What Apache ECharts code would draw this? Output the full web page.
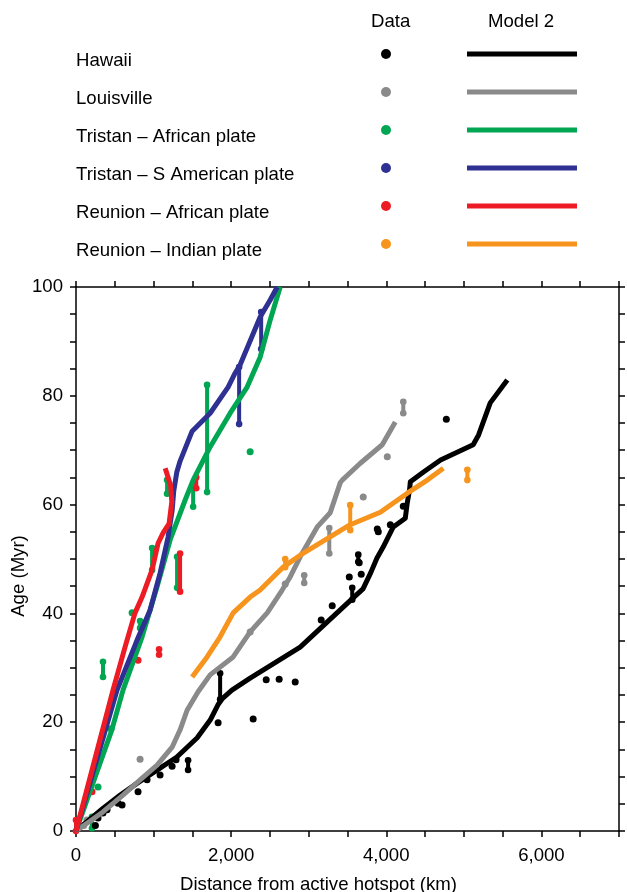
<!DOCTYPE html>
<html>
<head>
<meta charset="utf-8">
<script src="https://cdn.jsdelivr.net/npm/echarts@6/dist/echarts.min.js"></script>
<style>
html,body{margin:0;padding:0;background:#fff;}
#chart{width:627px;height:892px;}
</style>
</head>
<body>
<div id="chart"></div>
<script>
// ---- Data (distance km, age Myr) ----
const seriesNames = ['Hawaii','Louisville','Tristan \u2013 African plate','Tristan \u2013 S American plate','Reunion \u2013 African plate','Reunion \u2013 Indian plate'];
const seriesColors = ['#000000','#8a8a8a','#00a651','#2e3192','#ed1c24','#f7941d'];

const xTickValues = [0, 2000, 4000, 6000];
const yTickValues = [0, 20, 40, 60, 80, 100];

// Model 2 curves
const hawaiiModel = [[0,0],[350,4.2],[570,6.6],[790,8.8],[1045,11.2],[1300,13.6],[1560,17.1],[1730,20.4],[1830,23.2],[1890,24.4],[2010,25.9],[2245,28.1],[2890,33.8],[3500,41.9],[3700,44.5],[3800,47.5],[3880,50.2],[3960,52.2],[4090,55.9],[4245,57.5],[4270,60.3],[4300,62.7],[4310,64.2],[4480,66],[4700,68.2],[5120,71],[5190,72.8],[5340,78.7],[5560,82.9]];
const louisvilleModel = [[0,0],[348,3.5],[606,6.6],[826,9.4],[1045,12.1],[1239,15.4],[1342,18.6],[1432,22.2],[1574,25.6],[1729,28.7],[2026,32.0],[2245,36.6],[2465,40.1],[2658,44.3],[2761,46.7],[2890,50.4],[3110,55.9],[3277,58.5],[3406,64.0],[3432,64.5],[3665,67.6],[3948,71.0],[4116,75.2]];
const tristanAfModel = [[0,0],[460,18.5],[606,25.9],[852,35.7],[1045,44.9],[1213,53.5],[1406,60.8],[1510,64.5],[1729,70.6],[1987,76.8],[2206,81.6],[2374,87.1],[2503,93.9],[2632,100]];
const tristanSAModel = [[0,0],[529,25.9],[787,35.1],[955,40.6],[1084,47.4],[1187,54.0],[1240,59],[1260,62.5],[1300,66],[1342,68.0],[1497,73.5],[1729,76.8],[1961,81.6],[2052,84.2],[2116,85.7],[2374,94.5],[2503,97.6],[2594,100]];
const reunionAfModel = [[0,0],[477,25.9],[632,33.8],[761,40.1],[852,43.0],[981,48.0],[1058,52.9],[1123,54.8],[1200,56.5],[1235,60.5],[1220,63.5],[1150,66.7]];
const reunionInModel = [[1497,28.3],[1690,32.0],[1858,35.7],[2026,40.1],[2245,43.0],[2374,44.3],[2542,46.7],[2671,48.5],[2890,50.7],[3535,56.3],[3923,58.6],[4271,62.1],[4529,64.5],[4735,66.7]];

// Data points
const hawaiiPts = [[250,1.0],[284,2.4],[348,3.3],[400,3.9],[542,5.1],[594,4.8],[800,7.2],[916,9.4],[1084,10.3],[1239,11.9],[1290,13.1],[1832,19.9],[2284,20.6],[2452,27.8],[2619,27.9],[2826,27.4],[3161,38.8],[3303,41.4],[3523,46.7],[3677,47.2],[3651,49.3],[3884,55.5],[3897,55.0],[4052,56.3],[4219,59.7],[4774,75.7]];
const louisvillePts = [[100,1.0],[140,2.0],[826,13.2],[2245,36.6],[2697,45.4],[3703,61.4],[4013,68.8]];
const tristanAfPts = [[284,8.1],[452,18.8],[723,40.1],[2245,69.7]];
const tristanSAPts = [];
const reunionAfPts = [[206,7.2],[800,31.4]];
const reunionInPts = [];

// Data with age ranges: [distance, minAge, maxAge]
const hawaiiBars = [[1445,11.2,13.0],[1858,24.2,29.0],[3561,42.5,44.7],[3639,49.5,50.8]];
const louisvilleBars = [[2942,45.6,47.0],[3265,51.0,55.7],[4219,76.8,78.9]];
const tristanAfBars = [[206,0.5,2.6],[348,28.3,31.1],[826,37.3,38.6],[981,48,52],[1174,62,64.5],[1303,44.7,50.4],[1510,59.6,63.5],[1690,62.3,82]];
const tristanSABars = [[2103,74.8,85.3],[2387,88.6,95.4]];
const reunionAfBars = [[0,0,2],[1071,32.4,33.4],[1342,44,51],[1550,63,65]];
const reunionInBars = [[2697,48.5,50],[3535,55.3,59.9],[5045,64.5,66.4]];

const models = [hawaiiModel, louisvilleModel, tristanAfModel, tristanSAModel, reunionAfModel, reunionInModel];
const points = [hawaiiPts, louisvillePts, tristanAfPts, tristanSAPts, reunionAfPts, reunionInPts];
const bars = [hawaiiBars, louisvilleBars, tristanAfBars, tristanSABars, reunionAfBars, reunionInBars];

// ---- Chart ----
const FONT = "'Liberation Sans', Arial, Helvetica, sans-serif";
const FS = 18.6;
const chart = echarts.init(document.getElementById('chart'), null, {renderer: 'canvas'});

const axisLineStyle = {color: '#000', width: 1.5};
function xAx(pos, showLabels) {
  return {
    type: 'value', position: pos, min: 0, max: 7000, interval: 500,
    axisLine: {show: true, onZero: false, lineStyle: axisLineStyle},
    axisTick: {show: true, inside: false, length: 6, lineStyle: axisLineStyle},
    axisLabel: {show: showLabels, margin: 15, color: '#000', fontFamily: FONT, fontSize: FS,
      formatter: v => xTickValues.indexOf(v) >= 0 ? v.toLocaleString('en-US') : ''},
    splitLine: {show: false},
    name: showLabels ? 'Distance from active hotspot (km)' : '',
    nameLocation: 'middle', nameGap: 44, nameMoveOverlap: false,
    nameTextStyle: {color: '#000', fontFamily: FONT, fontSize: FS, padding: [0, 58, 0, 0]}
  };
}
function yAx(pos, showLabels) {
  return {
    type: 'value', position: pos, min: 0, max: 100, interval: 5,
    axisLine: {show: true, onZero: false, lineStyle: axisLineStyle},
    axisTick: {show: true, inside: false, length: 6, lineStyle: axisLineStyle},
    axisLabel: {show: showLabels, margin: 13, color: '#000', fontFamily: FONT, fontSize: FS,
      formatter: v => yTickValues.indexOf(v) >= 0 ? String(v) : ''},
    splitLine: {show: false},
    name: showLabels ? 'Age (Myr)' : '',
    nameLocation: 'middle', nameGap: 48, nameMoveOverlap: false,
    nameTextStyle: {color: '#000', fontFamily: FONT, fontSize: FS, padding: [0, 34, 0, 0]}
  };
}

const series = [];
// data bars and points first (beneath model lines)
bars.forEach((b, i) => {
  const color = seriesColors[i];
  series.push({
    type: 'custom', name: seriesNames[i] + ' range', data: b, z: 2,
    encode: {x: 0, y: [1, 2]},
    renderItem: function (params, api) {
      const x = api.value(0), lo = api.value(1), hi = api.value(2);
      const p1 = api.coord([x, lo]), p2 = api.coord([x, hi]);
      return {type: 'group', children: [
        {type: 'line', shape: {x1: p1[0], y1: p1[1], x2: p2[0], y2: p2[1]}, style: {stroke: color, lineWidth: 4, lineCap: 'round'}},
        {type: 'circle', shape: {cx: p1[0], cy: p1[1], r: 3.3}, style: {fill: color}},
        {type: 'circle', shape: {cx: p2[0], cy: p2[1], r: 3.3}, style: {fill: color}}
      ]};
    }
  });
});
points.forEach((p, i) => {
  series.push({
    type: 'scatter', name: seriesNames[i] + ' data', data: p, z: 2,
    symbol: 'circle', symbolSize: 7, itemStyle: {color: seriesColors[i], opacity: 1}, silent: true
  });
});
models.forEach((m, i) => {
  series.push({
    type: 'line', name: seriesNames[i] + ' model', data: m, z: 3,
    showSymbol: false, symbol: 'none', smooth: false, clip: true,
    lineStyle: {color: seriesColors[i], width: 5, cap: 'butt', join: 'round'}, silent: true
  });
});

// Legend (drawn as graphics)
const legendGraphics = [
  {type: 'text', left: 371, top: 12, style: {text: 'Data', font: FS + 'px ' + FONT, fill: '#000'}},
  {type: 'text', left: 488, top: 12, style: {text: 'Model 2', font: FS + 'px ' + FONT, fill: '#000'}}
];
seriesNames.forEach((n, i) => {
  const cy = 54 + i * 38;
  legendGraphics.push({type: 'text', left: 76, top: cy - 3, style: {text: n, font: FS + 'px ' + FONT, fill: '#000'}});
  legendGraphics.push({type: 'circle', shape: {cx: 386, cy: cy, r: 5}, style: {fill: seriesColors[i]}});
  legendGraphics.push({type: 'rect', shape: {x: 467, y: cy - 2.5, width: 110, height: 5}, style: {fill: seriesColors[i]}});
});

chart.setOption({
  animation: false,
  backgroundColor: '#fff',
  grid: {left: 76, top: 287, width: 543, height: 544, containLabel: false, outerBoundsMode: 'none'},
  xAxis: [xAx('bottom', true), xAx('top', false)],
  yAxis: [yAx('left', true), yAx('right', false)],
  graphic: legendGraphics,
  series: series
});
</script>
</body>
</html>
